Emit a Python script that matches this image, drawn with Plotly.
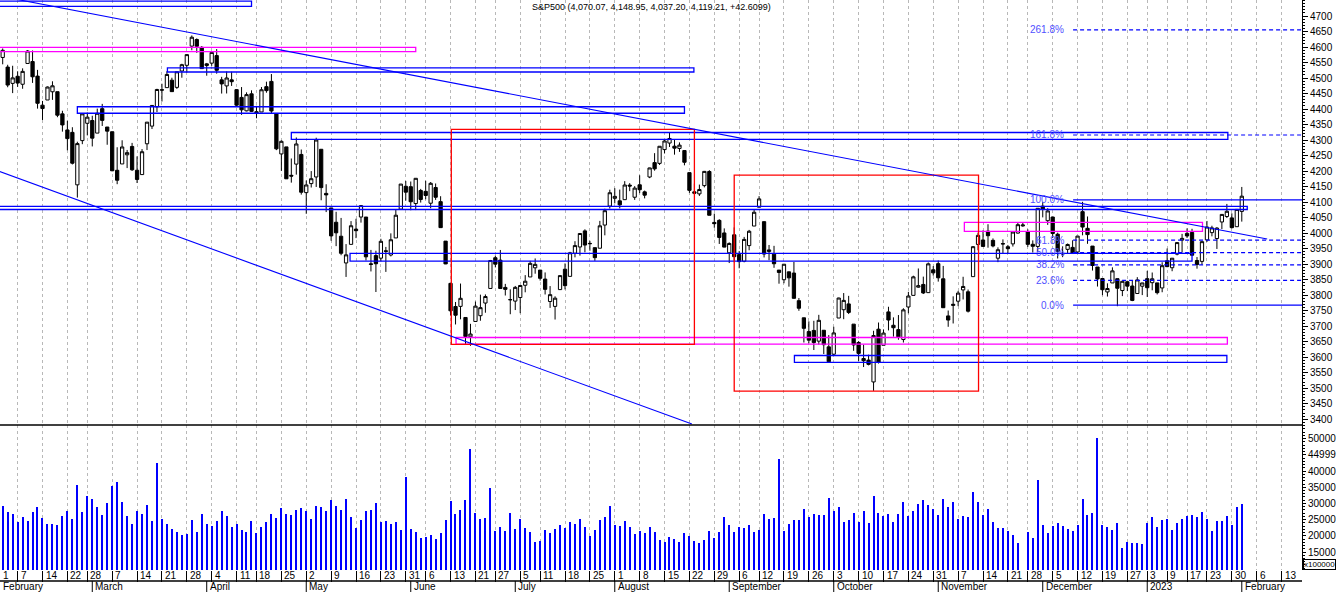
import pandas as pd
import plotly.graph_objects as go

# exchange closed days (13 Jan 2023 is simply missing in the data feed)
closed_days = ["2022-02-21", "2022-04-15", "2022-05-30", "2022-06-20", "2022-07-04",
               "2022-09-05", "2022-11-24", "2022-12-26", "2023-01-02", "2023-01-13",
               "2023-01-16", "2023-02-20"]

opens = [
    4519.57, 4566.39, 4535.41, 4482.79, 4505.75, 4480.02, 4547.00, 4553.24, 4506.27, 4412.61, 4429.28, 4455.75, 4456.06, 4384.57, 4332.74, 4324.93, 4155.77, 4298.38, 4354.17,
    4363.14, 4322.56, 4401.31, 4342.12, 4327.01, 4202.66, 4223.10, 4252.55, 4279.50, 4202.75, 4188.82, 4288.14, 4345.11, 4407.34, 4462.40, 4469.10, 4493.10, 4469.98, 4522.66, 4541.09, 4602.86, 4624.20, 4599.02,
    4540.32, 4547.97, 4572.45, 4494.17, 4474.65, 4494.15, 4462.64, 4437.59, 4394.30, 4449.12, 4385.63, 4390.63, 4472.26, 4489.17, 4385.83, 4255.34, 4278.14, 4186.52, 4222.58, 4253.75,
    4130.61, 4159.78, 4181.18, 4270.43, 4128.17, 4081.27, 4035.18, 3990.08, 3903.95, 3963.90, 4013.02, 4052.00, 4051.98, 3899.00, 3927.76, 3919.42, 3942.94, 3929.59, 3984.60, 4077.43, 4151.09,
    4149.78, 4095.41, 4137.57, 4134.72, 4096.47, 4147.12, 4101.65, 3974.39, 3838.15, 3763.52, 3764.05, 3728.18, 3665.90, 3715.31, 3733.89, 3774.71, 3821.75, 3920.76, 3913.00, 3825.09, 3785.99,
    3781.00, 3792.61, 3831.98, 3858.85, 3888.26, 3880.94, 3851.95, 3779.67, 3763.99, 3818.00, 3883.79, 3860.73, 3935.32, 3955.47, 4007.36, 3965.72, 3953.22, 3951.43, 4026.13, 4087.33,
    4112.38, 4104.21, 4107.96, 4154.85, 4115.87, 4155.93, 4133.11, 4181.02, 4227.40, 4225.02, 4269.37, 4290.46, 4280.40, 4273.13, 4266.31, 4195.08, 4133.09, 4126.55, 4153.26, 4198.74, 4034.58, 4041.25, 4000.67,
    3936.73, 3994.66, 3930.89, 3909.43, 3959.94, 4022.94, 4083.67, 4037.12, 3940.73, 3932.41, 3880.95, 3849.91, 3875.23, 3871.40, 3782.36, 3727.14, 3682.72, 3686.44, 3651.94, 3687.01, 3633.48,
    3609.78, 3726.46, 3753.25, 3771.97, 3706.74, 3647.51, 3595.86, 3590.83, 3520.37, 3690.41, 3638.65, 3746.26, 3703.11, 3689.05, 3657.10, 3762.01, 3799.44, 3825.97, 3834.69, 3808.26, 3881.85,
    3901.79, 3852.90, 3733.25, 3766.98, 3780.71, 3817.02, 3810.94, 3859.89, 3963.72, 3977.97, 4006.41, 3976.82, 3919.26, 3966.39, 3956.23, 3965.51, 4000.30, 4023.34, 4005.36, 3964.19, 3957.18,
    4087.14, 4040.17, 4052.02, 3996.63, 3933.28, 3947.79, 3954.17, 3939.29, 4069.38, 4015.54, 3958.37, 3890.91, 3853.79, 3810.47, 3839.49, 3853.26, 3815.11, 3843.34, 3829.56, 3805.45, 3829.06,
    3853.29, 3840.36, 3839.74, 3823.37, 3910.82, 3888.57, 3932.35, 3977.57, 3999.28, 4002.25, 3911.84, 3909.04, 3978.14, 4001.74, 3982.71, 4036.08, 4053.72, 4049.27, 4020.85,
    4070.07]
highs = [
    4550.49, 4595.31, 4542.88, 4539.66, 4521.86, 4531.32, 4590.03, 4588.92, 4526.33, 4426.22, 4472.77, 4489.55, 4456.06, 4394.60, 4362.12, 4341.51, 4294.73, 4385.34, 4388.84,
    4378.45, 4401.48, 4416.78, 4342.12, 4327.01, 4276.94, 4299.40, 4268.28, 4291.01, 4247.57, 4271.05, 4357.86, 4412.67, 4465.40, 4481.75, 4522.00, 4501.07, 4520.58, 4546.03, 4575.65, 4637.30, 4627.77, 4603.07,
    4548.70, 4583.50, 4593.45, 4503.94, 4521.16, 4520.41, 4464.35, 4471.00, 4453.92, 4460.46, 4410.31, 4471.03, 4488.29, 4512.94, 4385.83, 4299.02, 4278.14, 4240.71, 4308.45, 4269.68,
    4169.81, 4200.10, 4307.66, 4270.43, 4157.69, 4081.27, 4068.82, 4049.09, 3964.80, 4038.88, 4046.46, 4090.72, 4051.98, 3945.96, 3943.42, 3981.88, 3955.68, 3999.33, 4075.14, 4158.49, 4168.34,
    4166.54, 4177.51, 4142.67, 4168.78, 4164.86, 4160.14, 4119.10, 3974.39, 3838.15, 3778.18, 3837.56, 3728.18, 3707.71, 3779.65, 3801.79, 3802.58, 3913.65, 3927.72, 3945.86, 3836.50, 3818.99,
    3829.82, 3832.19, 3864.67, 3910.63, 3918.50, 3880.94, 3873.41, 3829.44, 3796.41, 3863.62, 3902.44, 3939.81, 3974.13, 3999.29, 4012.44, 3975.30, 3953.22, 4039.56, 4078.95, 4140.15,
    4144.95, 4140.47, 4167.66, 4161.29, 4151.58, 4186.62, 4137.30, 4211.03, 4257.91, 4280.47, 4301.79, 4325.28, 4302.18, 4292.53, 4266.31, 4195.08, 4159.77, 4156.56, 4200.54, 4203.04, 4062.99, 4044.98, 4015.37,
    3970.23, 4018.43, 3942.55, 3987.89, 4010.50, 4076.81, 4119.28, 4037.12, 3961.94, 3959.14, 3880.95, 3900.45, 3876.01, 3907.07, 3790.83, 3727.14, 3715.67, 3717.53, 3736.74, 3687.01, 3671.44,
    3698.35, 3791.92, 3806.91, 3797.93, 3706.74, 3652.17, 3640.66, 3608.34, 3685.41, 3712.00, 3689.73, 3762.79, 3728.58, 3736.00, 3757.89, 3810.74, 3862.85, 3886.15, 3859.95, 3905.42, 3893.73,
    3911.79, 3894.44, 3750.59, 3796.34, 3813.95, 3859.40, 3818.20, 3958.33, 4001.48, 4008.97, 4028.84, 3983.09, 3954.33, 3979.89, 3962.00, 4005.88, 4033.78, 4034.02, 4012.27, 3976.77, 4080.11,
    4100.51, 4080.48, 4052.45, 4001.51, 3957.57, 3966.65, 3977.02, 3990.71, 4100.96, 4053.76, 3958.37, 3890.91, 3854.86, 3838.24, 3889.82, 3853.26, 3845.80, 3846.65, 3848.32, 3858.19, 3839.85,
    3878.46, 3873.16, 3839.74, 3906.19, 3950.57, 3919.83, 3970.07, 3997.76, 4015.39, 4014.16, 3922.94, 3972.96, 4039.31, 4023.92, 4019.55, 4061.57, 4094.21, 4063.85, 4077.16,
    4148.95]
lows = [
    4483.53, 4544.32, 4470.39, 4451.50, 4471.47, 4465.40, 4547.00, 4484.31, 4401.41, 4364.84, 4429.28, 4429.68, 4373.81, 4327.22, 4267.11, 4221.51, 4114.65, 4286.83, 4315.12,
    4279.54, 4322.56, 4345.56, 4284.98, 4199.85, 4157.87, 4223.10, 4209.80, 4200.49, 4161.72, 4187.90, 4267.92, 4335.65, 4390.57, 4424.30, 4469.10, 4455.81, 4465.17, 4501.07, 4517.69, 4589.66, 4581.32, 4530.41,
    4507.57, 4539.21, 4514.17, 4450.04, 4450.30, 4474.60, 4408.38, 4381.34, 4392.70, 4390.77, 4370.30, 4390.63, 4452.68, 4384.47, 4267.62, 4200.82, 4175.04, 4162.90, 4188.63, 4124.28,
    4062.51, 4147.08, 4148.91, 4106.01, 4067.91, 3975.48, 3958.17, 3928.82, 3858.87, 3963.90, 3983.99, 4033.93, 3911.91, 3876.58, 3810.32, 3909.04, 3875.13, 3925.03, 3984.60, 4077.43, 4104.88,
    4073.85, 4074.37, 4098.67, 4109.18, 4080.19, 4107.20, 4017.17, 3900.16, 3734.30, 3705.68, 3722.30, 3639.77, 3636.87, 3715.31, 3717.69, 3743.52, 3821.75, 3889.66, 3820.14, 3799.02, 3738.67,
    3752.10, 3742.06, 3809.37, 3858.85, 3869.34, 3847.22, 3802.36, 3759.07, 3721.56, 3817.18, 3818.63, 3860.73, 3922.03, 3927.64, 3938.24, 3943.46, 3910.74, 3951.43, 3992.97, 4079.22,
    4096.02, 4079.81, 4107.96, 4135.42, 4107.31, 4128.97, 4112.09, 4177.26, 4201.41, 4219.78, 4256.90, 4277.77, 4253.08, 4261.98, 4218.70, 4129.86, 4124.03, 4119.97, 4147.59, 4057.66, 4017.42, 3965.21, 3954.53,
    3903.65, 3906.21, 3886.75, 3906.03, 3944.81, 4022.94, 4083.67, 3921.73, 3912.77, 3888.28, 3837.08, 3838.50, 3827.54, 3789.49, 3749.76, 3647.47, 3644.76, 3623.29, 3640.61, 3610.40, 3584.13,
    3604.93, 3726.46, 3722.66, 3739.22, 3620.73, 3588.10, 3568.45, 3573.86, 3491.58, 3579.68, 3638.65, 3686.53, 3666.51, 3656.44, 3647.42, 3741.65, 3799.44, 3824.07, 3803.79, 3808.26, 3863.18,
    3843.80, 3758.68, 3698.15, 3708.84, 3764.70, 3786.28, 3744.22, 3859.89, 3944.82, 3956.40, 3953.17, 3954.34, 3906.54, 3935.98, 3933.34, 3956.88, 3998.66, 4020.76, 3955.77, 3937.65, 3938.58,
    4050.87, 4026.63, 3984.49, 3918.39, 3922.68, 3935.83, 3933.04, 3935.30, 3993.03, 3965.65, 3879.45, 3827.91, 3800.04, 3795.62, 3839.49, 3764.49, 3797.01, 3813.22, 3780.78, 3805.45, 3800.34,
    3794.33, 3815.77, 3802.42, 3809.56, 3890.42, 3877.29, 3928.54, 3937.56, 3984.57, 3926.59, 3885.54, 3897.86, 3971.64, 3989.79, 3949.06, 4013.29, 4048.70, 4015.55, 4020.44,
    4037.20]
closes = [
    4546.54, 4589.38, 4477.44, 4500.53, 4483.87, 4521.54, 4587.18, 4504.08, 4418.64, 4401.67, 4471.07, 4475.01, 4380.26, 4348.87, 4304.76, 4225.50, 4288.70, 4384.65, 4373.94,
    4306.26, 4386.54, 4363.49, 4328.87, 4201.09, 4170.70, 4277.88, 4259.52, 4204.31, 4173.11, 4262.45, 4357.86, 4411.67, 4463.12, 4461.18, 4511.61, 4456.24, 4520.16, 4543.06, 4575.52, 4631.60, 4602.45, 4530.41,
    4545.86, 4582.64, 4525.12, 4481.15, 4500.21, 4488.28, 4412.53, 4397.45, 4446.59, 4392.59, 4391.69, 4462.21, 4459.45, 4393.66, 4271.78, 4296.12, 4175.20, 4183.96, 4287.50, 4131.93,
    4155.38, 4175.48, 4300.17, 4146.87, 4123.34, 3991.24, 4001.05, 3935.18, 3930.08, 4023.89, 4008.01, 4088.85, 3923.68, 3900.79, 3901.36, 3973.75, 3941.48, 3978.73, 4057.84, 4158.24, 4132.15,
    4101.23, 4176.82, 4108.54, 4121.43, 4160.68, 4115.77, 4017.82, 3900.86, 3749.63, 3735.48, 3789.99, 3666.77, 3674.84, 3764.79, 3759.89, 3795.73, 3911.74, 3900.11, 3821.55, 3818.83, 3785.38,
    3825.33, 3831.39, 3845.08, 3902.62, 3899.38, 3854.43, 3818.80, 3801.78, 3790.38, 3863.16, 3830.85, 3936.69, 3959.90, 3998.95, 3961.63, 3966.84, 3921.05, 4023.61, 4072.43, 4130.29,
    4118.63, 4091.19, 4155.17, 4151.94, 4145.19, 4140.06, 4122.47, 4210.24, 4207.27, 4280.15, 4297.14, 4305.20, 4274.04, 4283.74, 4228.48, 4137.99, 4128.73, 4140.77, 4199.12, 4057.66, 4030.61, 3986.16, 3955.00,
    3966.85, 3924.26, 3908.19, 3979.87, 4006.18, 4067.36, 4110.41, 3932.69, 3946.01, 3901.35, 3873.33, 3899.89, 3855.93, 3789.93, 3757.99, 3693.23, 3655.04, 3647.29, 3719.04, 3640.47, 3585.62,
    3678.43, 3790.93, 3783.28, 3744.52, 3639.66, 3612.39, 3588.84, 3577.03, 3669.91, 3583.07, 3677.95, 3719.98, 3695.16, 3665.78, 3752.75, 3797.34, 3859.11, 3830.60, 3807.30, 3901.06, 3871.98,
    3856.10, 3759.69, 3719.89, 3770.55, 3806.80, 3828.11, 3748.57, 3956.37, 3992.93, 3957.25, 3991.73, 3958.79, 3946.56, 3965.34, 3949.94, 4003.58, 4027.26, 4026.12, 3963.94, 3957.63, 4080.11,
    4076.57, 4071.70, 3998.84, 3941.26, 3933.92, 3963.51, 3934.38, 3990.56, 4019.65, 3995.32, 3895.75, 3852.36, 3817.66, 3821.62, 3878.44, 3822.39, 3844.82, 3829.25, 3783.22, 3849.28, 3839.50,
    3824.14, 3852.97, 3808.10, 3895.08, 3892.09, 3919.25, 3969.61, 3983.17, 3990.97, 3928.86, 3898.85, 3972.61, 4019.81, 4016.95, 4016.22, 4060.43, 4070.56, 4017.77, 4076.60,
    4119.21]
# volume, in units of 100000
volumes = [
    27000, 29200, 27400, 26700, 24300, 25800, 24600, 27400, 28900, 25500, 23600, 23600, 23300, 26100, 27700, 25200, 35700, 27400, 32300,
    31400, 28900, 26400, 30100, 35400, 36600, 30400, 26100, 23600, 27700, 26700, 29500, 24600, 42500, 25200, 23600, 22100, 21200, 20300, 20600, 24900, 21200, 26700,
    23600, 23000, 24600, 27700, 26100, 22700, 23600, 21800, 21200, 24600, 20900, 22700, 24300, 26700, 25500, 28600, 26700, 26400, 28000, 28600,
    27700, 25200, 29200, 28900, 27700, 31100, 29200, 28000, 31400, 25800, 22400, 24900, 27700, 28000, 30100, 24300, 24600, 23600, 24300, 21800, 38200,
    22100, 21200, 19300, 19600, 20300, 19000, 20900, 24900, 30800, 26700, 28000, 31100, 46800, 27000, 25200, 25500, 34800, 21500, 22700, 21500, 27000,
    22100, 25200, 22400, 21200, 18100, 18400, 21800, 20900, 22100, 23300, 22400, 24300, 23600, 25200, 22700, 19900, 21800, 24900, 25800, 29200,
    23300, 23000, 24600, 22700, 20600, 21500, 20900, 22700, 21200, 18700, 18100, 19600, 19000, 18100, 20900, 19900, 18400, 17800, 18700, 21500, 19300, 21200, 25800,
    23300, 21200, 22700, 22400, 23300, 21200, 21800, 26700, 25200, 25500, 43700, 21500, 23600, 24900, 24900, 28300, 25800, 26700, 26400, 26400, 31700,
    27700, 28900, 24300, 24900, 27000, 24300, 27700, 24000, 32300, 27000, 26100, 26700, 24300, 26700, 30400, 26100, 27700, 29800, 31100, 29500, 28300,
    26400, 31400, 28900, 30400, 25200, 26100, 25800, 33500, 30400, 26400, 28300, 24300, 22400, 22400, 21500, 20300, 17800, 9000, 21200, 19300, 37200,
    23300, 20900, 23000, 24000, 23000, 22100, 21500, 23300, 31400, 26400, 27000, 50200, 23300, 22700, 21800, 24000, 16200, 18100, 17800, 17800, 17500,
    24000, 25800, 22700, 24900, 25200, 21800, 24000, 25200, 26100, 26400, 25800, 27400, 25200, 21500, 24600, 24600, 26100, 23300, 28900,
    29800]

month_names = ["January", "February", "March", "April", "May", "June", "July",
               "August", "September", "October", "November", "December"]
vol_ticks = [15000, 20000, 25000, 30000, 35000, 40000, 45000, 50000]
vol_tick_text = ["15000", "20000", "25000", "30000", "35000", "40000", "44999", "50000"]

# drawing objects: bar-index x0, x1, upper price, lower price, colour
boxes = [
    (-1, 51.0, 4748.0, 4731.0, "#0000ff"),
    (-1, 84.0, 4599.0, 4585.0, "#ff00ff"),
    (34.1, 139.9, 4533.0, 4519.5, "#0000ff"),
    (16.0, 138.0, 4407.5, 4386.5, "#0000ff"),
    (59.0, 247.2, 4324.5, 4302.5, "#0000ff"),
    (-1, 251.1, 4086.5, 4076.2, "#0000ff"),
    (70.8, 240.0, 3935.0, 3910.0, "#0000ff"),
    (194.25, 242.1, 4035.0, 4006.0, "#ff00ff"),
    (92.1, 247.1, 3663.6, 3642.0, "#ff00ff"),
    (160.1, 247.0, 3605.6, 3583.6, "#0000ff"),
    (91.15, 140.0, 4334.8, 3641.7, "#ff0000"),
    (148.0, 197.1, 4187.4, 3491.1, "#ff0000"),
]
trend_lines = [(-0.55, 4767.1, 255.1, 3981.1), (-0.55, 4204.0, 139.5, 3384.7)]
fib_low, fib_high = 3768.0, 4107.0
fib_ratios = [0.0, 0.236, 0.382, 0.5, 0.618, 1.0, 1.618, 2.618]

# trading calendar, extended a bit past the last bar for the axis labels
cal = [d for d in pd.bdate_range("2022-02-01", "2023-02-17")
       if d.strftime("%Y-%m-%d") not in closed_days]
idx = list(range(len(closes)))

week_pos, week_txt, month_pos, month_txt = [], [], [], []
for i, d in enumerate(cal):
    if i == 0 or d.isocalendar()[1] != cal[i - 1].isocalendar()[1]:
        week_pos.append(i)
        week_txt.append(str(d.day))
    if i == 0 or d.month != cal[i - 1].month:
        month_pos.append(i)
        month_txt.append(str(d.year) if d.month == 1 else month_names[d.month - 1])

x_lo, x_hi = 0.457, 262.1
plot_h = 581.0
split = 156 / plot_h          # price / volume border
vol_bottom = 11 / plot_h
fnt = "Liberation Sans, Arial, sans-serif"

fig = go.Figure()
fig.add_trace(go.Candlestick(
    x=idx, open=opens, high=highs, low=lows, close=closes, xaxis="x", yaxis="y",
    increasing=dict(fillcolor="white", line=dict(color="black", width=1)),
    decreasing=dict(fillcolor="black", line=dict(color="black", width=1)),
    whiskerwidth=0, name="S&P500"))
fig.add_trace(go.Bar(x=idx, y=volumes, xaxis="x2", yaxis="y2", width=0.22,
                     marker=dict(color="#0000ff", line=dict(width=0)), name="Volume"))

grid = dict(showgrid=True, gridcolor="#b8b8b8", griddash="3px,3px", gridwidth=1,
            tickmode="array", tickvals=week_pos, showticklabels=False, zeroline=False)
fig.update_layout(
    width=1336, height=592, margin=dict(l=0, r=34, t=0, b=11),
    paper_bgcolor="white", plot_bgcolor="white", showlegend=False,
    font=dict(family=fnt, size=10, color="black"),
    boxgap=0.2, boxgroupgap=0.18, bargap=0,
    xaxis=dict(domain=[0, 1], anchor="y", range=[x_lo, x_hi], ticks="",
               rangeslider=dict(visible=False), **grid),
    xaxis2=dict(domain=[0, 1], anchor="y2", matches="x", ticks="outside", ticklen=11,
                tickcolor="black", tickwidth=1, **grid),
    yaxis=dict(domain=[split, 1], anchor="x", side="right", range=[3381.6, 4751.6],
               tickmode="array", tickvals=list(range(3400, 4701, 50)), ticks="outside",
               ticklen=5, tickcolor="black", showline=True, linecolor="black", linewidth=1,
               showgrid=False, zeroline=False, tickfont=dict(size=10),
               minor=dict(tickmode="linear", tick0=3400, dtick=10, ticks="outside",
                          ticklen=2, tickcolor="black", showgrid=False)),
    yaxis2=dict(domain=[vol_bottom, split], anchor="x2", side="right", range=[9440, 54232],
                tickmode="array", tickvals=vol_ticks, ticktext=vol_tick_text, ticks="outside",
                ticklen=3, tickcolor="black", showline=True, linecolor="black", linewidth=1,
                showgrid=False, zeroline=False, tickfont=dict(size=10),
                minor=dict(tickmode="linear", tick0=10000, dtick=1000, ticks="outside",
                           ticklen=2, tickcolor="black", showgrid=False)),
)

for x0, x1, top, bot, col in boxes:
    fig.add_shape(type="rect", xref="x", yref="y", x0=x0, x1=x1, y0=bot, y1=top,
                  line=dict(color=col, width=1.3), fillcolor="rgba(0,0,0,0)")
for x0, y0, x1, y1 in trend_lines:
    fig.add_shape(type="line", xref="x", yref="y", x0=x0, y0=y0, x1=x1, y1=y1,
                  line=dict(color="#0000ff", width=1.1))

# fibonacci levels
for r in fib_ratios:
    lvl = fib_low + r * (fib_high - fib_low)
    solid = r in (0.0, 1.0)
    fig.add_shape(type="line", xref="x", yref="y", x0=216.1, x1=x_hi + 5, y0=lvl, y1=lvl,
                  line=dict(color="#0000ff", width=1.2, dash="solid" if solid else "4px,3px"))
    fig.add_annotation(x=214.7, y=lvl, xref="x", yref="y", text="%.1f%%" % (r * 100),
                       xanchor="right", yanchor="middle", showarrow=False,
                       font=dict(size=10, color="#5050ff"))

# panel borders
fig.add_shape(type="line", xref="paper", yref="paper", x0=0, x1=1, y0=split, y1=split,
              line=dict(color="black", width=1.5))
fig.add_shape(type="line", xref="paper", yref="paper", x0=0, x1=1, y0=0, y1=0,
              line=dict(color="black", width=1.5))

# date strip: day numbers above, month names below
for p, t in zip(week_pos, week_txt):
    fig.add_annotation(x=max(p, x_lo), y=5.5 / plot_h, xref="x", yref="paper", text=t,
                       xanchor="left", yanchor="middle", xshift=1, showarrow=False,
                       font=dict(size=10))
for p, t in zip(month_pos, month_txt):
    if p > x_lo:
        fig.add_shape(type="line", xref="x", yref="paper", x0=p, x1=p, y0=0, y1=-11 / plot_h,
                      line=dict(color="black", width=1))
    fig.add_annotation(x=max(p, x_lo), y=-5.5 / plot_h, xref="x", yref="paper", text=t,
                       xanchor="left", yanchor="middle", xshift=1, showarrow=False,
                       font=dict(size=10))

fig.add_annotation(x=1, y=11 / plot_h, xref="paper", yref="paper", text="x100000",
                   xanchor="left", yanchor="bottom", showarrow=False, font=dict(size=8),
                   bordercolor="black", borderwidth=1, borderpad=0, xshift=1)
fig.add_annotation(x=0.5, y=1, xref="paper", yref="paper",
                   text="S&amp;P500 (4,070.07, 4,148.95, 4,037.20, 4,119.21, +42.6099)",
                   xanchor="center", yanchor="top", showarrow=False, font=dict(size=9))

# the page's default body margin would push the chart 8px down and right
fig.write_html("out.html", config={"displayModeBar": False},
               post_script="document.body.style.margin='0px';")
